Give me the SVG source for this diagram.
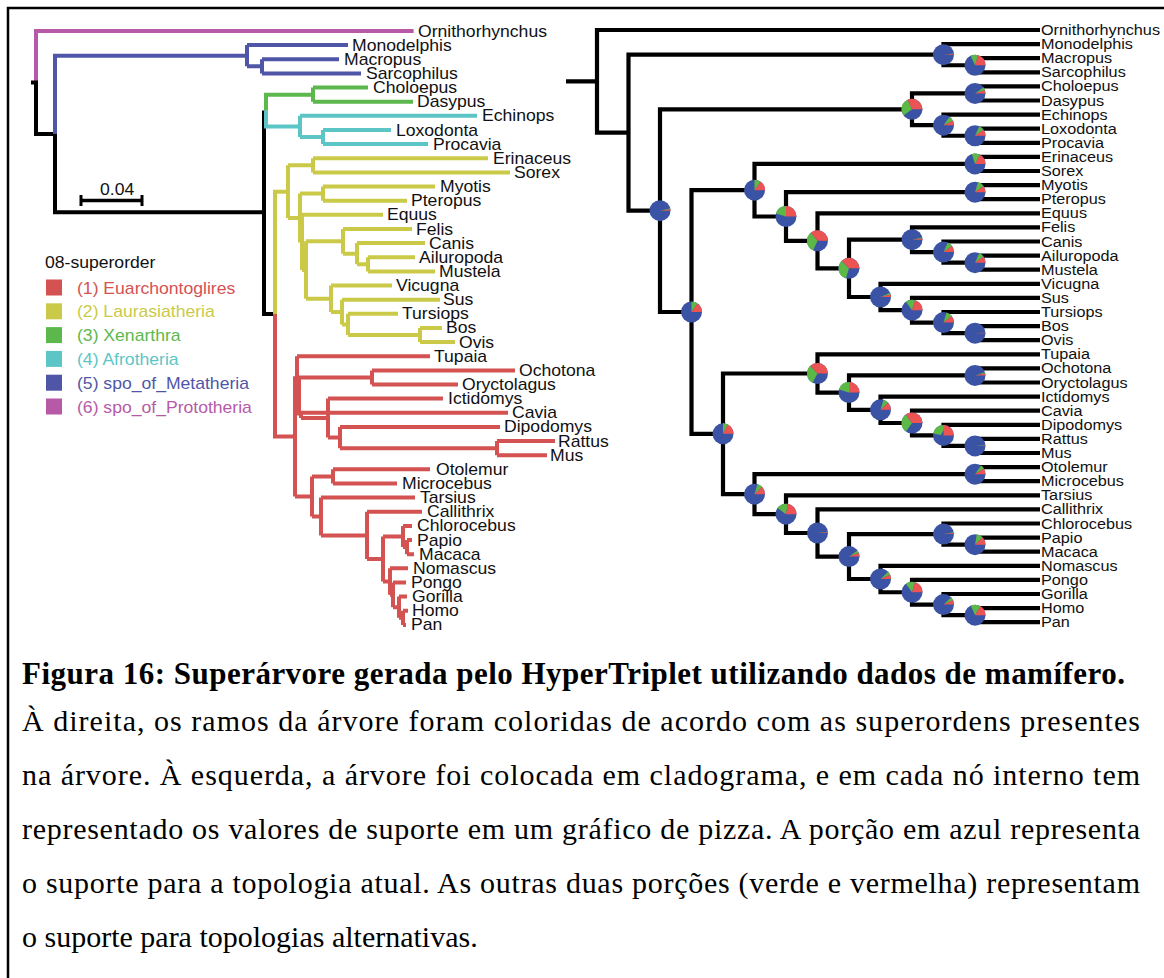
<svg xmlns="http://www.w3.org/2000/svg" width="1164" height="978" viewBox="0 0 1164 978">
<style>
.bg{fill:#fff}
.frame{fill:none;stroke:#000;stroke-width:2.5}
.e{fill:none;stroke-width:4;stroke-linecap:butt;stroke-linejoin:miter}
.k{stroke:#000}
.pk{stroke:#b65aa8}
.bl{stroke:#4f56a8}
.gr{stroke:#5cb84c}
.cy{stroke:#5cc6c6}
.ye{stroke:#caca48}
.rd{stroke:#d45252}
.rk{fill:none;stroke:#000;stroke-width:4.2;stroke-linejoin:miter}
.lt{font-family:"Liberation Sans",Arial,Helvetica,sans-serif;font-size:16px;fill:#111}
.rt{font-family:"Liberation Sans",Arial,Helvetica,sans-serif;font-size:14.5px;fill:#111}
.pb{fill:#3a53a4}
.pg{fill:none;stroke:#5cb947;stroke-width:10.5}
.pr{fill:none;stroke:#ec5353;stroke-width:10.5}
.cap{font-family:"Liberation Serif","Times New Roman",serif;font-size:30px;fill:#000}
.capb{font-family:"Liberation Serif","Times New Roman",serif;font-size:31px;font-weight:bold;fill:#000}
</style>
<rect class="bg" x="0" y="0" width="1164" height="978"/>
<path class="frame" d="M8 978 V8 H1164"/>

<g id="connectors">
<g id="left-edges">
<path class="e pk" d="M36 82.5 V31 H413.6"/>
<path class="e k" d="M31 82.5 H36 V134 H55 M55 134 V212.3 H264 M264 110.5 V314 H275"/>
<path class="e bl" d="M55 134 V55.7 H247 M247 45.1 V66.35 M247 45.1 H348 M247 66.35 H262 M262 59.3 V73.4 M262 59.3 H339 M262 73.4 H361"/>
<path class="e gr" d="M266 110.5 V94.65 H313 M313 87.6 V101.7 M313 87.6 H368 M313 101.7 H413"/>
<path class="e cy" d="M266 110.5 V126.4 H300 M300 115.8 V137.05 M300 115.8 H477 M300 137.05 H323 M323 130 V144.1 M323 130 H391 M323 144.1 H428"/>
<path class="e ye" d="M275 314 V191.7 H288 M288 165.35 V218 M288 165.35 H313 M313 158.3 V172.4 M313 158.3 H488 M313 172.4 H510 M288 218 H300 M300 193.6 V242.4 M300 193.6 H323 M323 186.5 V200.7 M323 186.5 H435 M323 200.7 H407 M300 242.4 H302 M302 214.8 V270.1 M302 214.8 H383 M302 270.1 H306 M306 241.35 V298.8 M306 241.35 H343 M343 229 V253.7 M343 229 H412 M343 253.7 H357 M357 243.1 V264.3 M357 243.1 H425 M357 264.3 H368 M368 257.2 V271.4 M368 257.2 H415 M368 271.4 H435 M306 298.8 H331 M331 285.5 V312.05 M331 285.5 H392 M331 312.05 H342 M342 299.7 V324.4 M342 299.7 H440 M342 324.4 H348 M348 313.8 V335 M348 313.8 H398 M348 335 H420 M420 327.9 V342.1 M420 327.9 H442 M420 342.1 H455"/>
<path class="e rd" d="M275 314 V436.4 H295 M295 376.3 V496.4 M295 376.3 H297 M297 356.2 V396.4 M297 356.2 H430 M297 396.4 H299 M299 377.45 V415.4 M299 377.45 H372 M372 370.4 V384.5 M372 370.4 H515 M372 384.5 H458 M299 415.4 H301 M301 412.8 V418.05 M301 412.8 H508 M301 418.05 H328 M328 398.6 V437.5 M328 398.6 H443 M328 437.5 H340 M340 426.9 V448.15 M340 426.9 H500 M340 448.15 H497 M497 441.1 V455.2 M497 441.1 H555 M497 455.2 H547 M295 496.4 H312 M312 476.4 V516.5 M312 476.4 H333 M333 469.3 V483.5 M333 469.3 H430 M333 483.5 H397 M312 516.5 H321 M321 497.6 V535.4 M321 497.6 H415 M321 535.4 H367 M367 511.8 V559 M367 511.8 H422 M367 559 H383 M383 536.5 V581.6 M383 536.5 H403 M403 525.9 V547.1 M403 525.9 H412 M403 547.1 H407 M407 540 V554.2 M407 540 H412 M407 554.2 H414 M383 581.6 H390 M390 568.3 V594.85 M390 568.3 H408 M390 594.85 H393 M393 582.5 V607.2 M393 582.5 H406 M393 607.2 H399 M399 596.6 V617.8 M399 596.6 H407 M399 617.8 H403 M403 610.7 V624.9 M403 610.7 H408 M403 624.9 H406"/>
</g>
<g id="scale-bar">
<path d="M81 200.5 H142" stroke="#000" stroke-width="3.5"/>
<path d="M81 195 V206 M142 195 V206" stroke="#000" stroke-width="3"/>
</g>
<g id="right-edges">
<path class="rk" d="M566 81.35 H597 M1040 30 H597 V132.7 H628.5"/>
<path class="rk" d="M943.5 54.7 H628.5 V210.65 H660"/>
<path class="rk" d="M1040 44.1 H943.5 V65.25 H975"/>
<path class="rk" d="M1040 58.2 H975 V72.3 H1040"/>
<path class="rk" d="M912 109.3 H660 V312 H691.5"/>
<path class="rk" d="M975 93.45 H912 V125.2 H943.5"/>
<path class="rk" d="M1040 86.4 H975 V100.5 H1040"/>
<path class="rk" d="M1040 114.6 H943.5 V135.75 H975"/>
<path class="rk" d="M1040 128.7 H975 V142.8 H1040"/>
<path class="rk" d="M754.5 190.2 H691.5 V433.8 H723"/>
<path class="rk" d="M975 163.95 H754.5 V216.5 H786"/>
<path class="rk" d="M1040 156.9 H975 V171 H1040"/>
<path class="rk" d="M975 192.15 H786 V240.8 H817.5"/>
<path class="rk" d="M1040 185.1 H975 V199.2 H1040"/>
<path class="rk" d="M1040 213.3 H817.5 V268.35 H849"/>
<path class="rk" d="M912 239.7 H849 V297 H880.5"/>
<path class="rk" d="M1040 227.4 H912 V252.1 H943.5"/>
<path class="rk" d="M1040 241.5 H943.5 V262.65 H975"/>
<path class="rk" d="M1040 255.6 H975 V269.7 H1040"/>
<path class="rk" d="M1040 283.8 H880.5 V310.2 H912"/>
<path class="rk" d="M1040 297.9 H912 V322.6 H943.5"/>
<path class="rk" d="M1040 312 H943.5 V333.15 H975"/>
<path class="rk" d="M1040 326.1 H975 V340.2 H1040"/>
<path class="rk" d="M817.5 373.5 H723 V494.15 H754.5"/>
<path class="rk" d="M1040 354.3 H817.5 V392.6 H849"/>
<path class="rk" d="M975 375.45 H849 V409.8 H880.5"/>
<path class="rk" d="M1040 368.4 H975 V382.5 H1040"/>
<path class="rk" d="M1040 396.6 H880.5 V423 H912"/>
<path class="rk" d="M1040 410.7 H912 V435.4 H943.5"/>
<path class="rk" d="M1040 424.8 H943.5 V445.95 H975"/>
<path class="rk" d="M1040 438.9 H975 V453 H1040"/>
<path class="rk" d="M975 474.15 H754.5 V514.15 H786"/>
<path class="rk" d="M1040 467.1 H975 V481.2 H1040"/>
<path class="rk" d="M1040 495.3 H786 V533 H817.5"/>
<path class="rk" d="M1040 509.4 H817.5 V556.6 H849"/>
<path class="rk" d="M943.5 534.1 H849 V579 H880.5"/>
<path class="rk" d="M1040 523.5 H943.5 V544.65 H975"/>
<path class="rk" d="M1040 537.6 H975 V551.7 H1040"/>
<path class="rk" d="M1040 565.8 H880.5 V592.25 H912"/>
<path class="rk" d="M1040 579.9 H912 V604.6 H943.5"/>
<path class="rk" d="M1040 594 H943.5 V615.15 H975"/>
<path class="rk" d="M1040 608.1 H975 V622.2 H1040"/>
</g>
</g>

<g id="scale-label"><text class="lt" transform="matrix(1.1 0 0 1 100 195)">0.04</text></g>

<g id="legend">
<text class="lt" fill="#222" transform="matrix(1.1 0 0 1 45 268)">08-superorder</text>
<g id="leg-1"><rect x="46" y="279.5" width="16" height="16" fill="#d45252"/><text class="lt" style="fill:#d45252" transform="matrix(1.1 0 0 1 77 293.5)">(1) Euarchontoglires</text></g>
<g id="leg-2"><rect x="46" y="303.3" width="16" height="16" fill="#caca48"/><text class="lt" style="fill:#caca48" transform="matrix(1.1 0 0 1 77 317.3)">(2) Laurasiatheria</text></g>
<g id="leg-3"><rect x="46" y="327.1" width="16" height="16" fill="#5cb84c"/><text class="lt" style="fill:#5cb84c" transform="matrix(1.1 0 0 1 77 341.1)">(3) Xenarthra</text></g>
<g id="leg-4"><rect x="46" y="350.9" width="16" height="16" fill="#5cc6c6"/><text class="lt" style="fill:#5cc6c6" transform="matrix(1.1 0 0 1 77 364.9)">(4) Afrotheria</text></g>
<g id="leg-5"><rect x="46" y="374.7" width="16" height="16" fill="#4f56a8"/><text class="lt" style="fill:#4f56a8" transform="matrix(1.1 0 0 1 77 388.7)">(5) spo_of_Metatheria</text></g>
<g id="leg-6"><rect x="46" y="398.5" width="16" height="16" fill="#b65aa8"/><text class="lt" style="fill:#b65aa8" transform="matrix(1.1 0 0 1 77 412.5)">(6) spo_of_Prototheria</text></g>
</g>

<g id="left-labels">
<g id="L-Ornithorhynchus"><text class="lt" transform="matrix(1.1 0 0 1 418 36.5)">Ornithorhynchus</text></g>
<g id="L-Monodelphis"><text class="lt" transform="matrix(1.1 0 0 1 352 50.6)">Monodelphis</text></g>
<g id="L-Macropus"><text class="lt" transform="matrix(1.1 0 0 1 344 64.8)">Macropus</text></g>
<g id="L-Sarcophilus"><text class="lt" transform="matrix(1.1 0 0 1 366 78.9)">Sarcophilus</text></g>
<g id="L-Choloepus"><text class="lt" transform="matrix(1.1 0 0 1 373 93.1)">Choloepus</text></g>
<g id="L-Dasypus"><text class="lt" transform="matrix(1.1 0 0 1 417 107.2)">Dasypus</text></g>
<g id="L-Echinops"><text class="lt" transform="matrix(1.1 0 0 1 482 121.3)">Echinops</text></g>
<g id="L-Loxodonta"><text class="lt" transform="matrix(1.1 0 0 1 396 135.5)">Loxodonta</text></g>
<g id="L-Procavia"><text class="lt" transform="matrix(1.1 0 0 1 433 149.6)">Procavia</text></g>
<g id="L-Erinaceus"><text class="lt" transform="matrix(1.1 0 0 1 493 163.8)">Erinaceus</text></g>
<g id="L-Sorex"><text class="lt" transform="matrix(1.1 0 0 1 514 177.9)">Sorex</text></g>
<g id="L-Myotis"><text class="lt" transform="matrix(1.1 0 0 1 440 192)">Myotis</text></g>
<g id="L-Pteropus"><text class="lt" transform="matrix(1.1 0 0 1 411 206.2)">Pteropus</text></g>
<g id="L-Equus"><text class="lt" transform="matrix(1.1 0 0 1 387 220.3)">Equus</text></g>
<g id="L-Felis"><text class="lt" transform="matrix(1.1 0 0 1 416 234.5)">Felis</text></g>
<g id="L-Canis"><text class="lt" transform="matrix(1.1 0 0 1 429 248.6)">Canis</text></g>
<g id="L-Ailuropoda"><text class="lt" transform="matrix(1.1 0 0 1 419 262.7)">Ailuropoda</text></g>
<g id="L-Mustela"><text class="lt" transform="matrix(1.1 0 0 1 439 276.9)">Mustela</text></g>
<g id="L-Vicugna"><text class="lt" transform="matrix(1.1 0 0 1 396 291)">Vicugna</text></g>
<g id="L-Sus"><text class="lt" transform="matrix(1.1 0 0 1 443 305.2)">Sus</text></g>
<g id="L-Tursiops"><text class="lt" transform="matrix(1.1 0 0 1 402 319.3)">Tursiops</text></g>
<g id="L-Bos"><text class="lt" transform="matrix(1.1 0 0 1 446 333.4)">Bos</text></g>
<g id="L-Ovis"><text class="lt" transform="matrix(1.1 0 0 1 459 347.6)">Ovis</text></g>
<g id="L-Tupaia"><text class="lt" transform="matrix(1.1 0 0 1 434 361.7)">Tupaia</text></g>
<g id="L-Ochotona"><text class="lt" transform="matrix(1.1 0 0 1 519 375.9)">Ochotona</text></g>
<g id="L-Oryctolagus"><text class="lt" transform="matrix(1.1 0 0 1 462 390)">Oryctolagus</text></g>
<g id="L-Ictidomys"><text class="lt" transform="matrix(1.1 0 0 1 448 404.1)">Ictidomys</text></g>
<g id="L-Cavia"><text class="lt" transform="matrix(1.1 0 0 1 512 418.3)">Cavia</text></g>
<g id="L-Dipodomys"><text class="lt" transform="matrix(1.1 0 0 1 504 432.4)">Dipodomys</text></g>
<g id="L-Rattus"><text class="lt" transform="matrix(1.1 0 0 1 558 446.6)">Rattus</text></g>
<g id="L-Mus"><text class="lt" transform="matrix(1.1 0 0 1 550 460.7)">Mus</text></g>
<g id="L-Otolemur"><text class="lt" transform="matrix(1.1 0 0 1 436 474.8)">Otolemur</text></g>
<g id="L-Microcebus"><text class="lt" transform="matrix(1.1 0 0 1 402 489)">Microcebus</text></g>
<g id="L-Tarsius"><text class="lt" transform="matrix(1.1 0 0 1 420 503.1)">Tarsius</text></g>
<g id="L-Callithrix"><text class="lt" transform="matrix(1.1 0 0 1 427 517.3)">Callithrix</text></g>
<g id="L-Chlorocebus"><text class="lt" transform="matrix(1.1 0 0 1 417 531.4)">Chlorocebus</text></g>
<g id="L-Papio"><text class="lt" transform="matrix(1.1 0 0 1 417 545.5)">Papio</text></g>
<g id="L-Macaca"><text class="lt" transform="matrix(1.1 0 0 1 419 559.7)">Macaca</text></g>
<g id="L-Nomascus"><text class="lt" transform="matrix(1.1 0 0 1 413 573.8)">Nomascus</text></g>
<g id="L-Pongo"><text class="lt" transform="matrix(1.1 0 0 1 411 588)">Pongo</text></g>
<g id="L-Gorilla"><text class="lt" transform="matrix(1.1 0 0 1 412 602.1)">Gorilla</text></g>
<g id="L-Homo"><text class="lt" transform="matrix(1.1 0 0 1 412 616.2)">Homo</text></g>
<g id="L-Pan"><text class="lt" transform="matrix(1.1 0 0 1 411 630.4)">Pan</text></g>
</g>

<g id="right-labels">
<g id="R-Ornithorhynchus"><text class="rt" transform="matrix(1.12 0 0 1 1041 35)">Ornithorhynchus</text></g>
<g id="R-Monodelphis"><text class="rt" transform="matrix(1.12 0 0 1 1041 49.1)">Monodelphis</text></g>
<g id="R-Macropus"><text class="rt" transform="matrix(1.12 0 0 1 1041 63.2)">Macropus</text></g>
<g id="R-Sarcophilus"><text class="rt" transform="matrix(1.12 0 0 1 1041 77.3)">Sarcophilus</text></g>
<g id="R-Choloepus"><text class="rt" transform="matrix(1.12 0 0 1 1041 91.4)">Choloepus</text></g>
<g id="R-Dasypus"><text class="rt" transform="matrix(1.12 0 0 1 1041 105.5)">Dasypus</text></g>
<g id="R-Echinops"><text class="rt" transform="matrix(1.12 0 0 1 1041 119.6)">Echinops</text></g>
<g id="R-Loxodonta"><text class="rt" transform="matrix(1.12 0 0 1 1041 133.7)">Loxodonta</text></g>
<g id="R-Procavia"><text class="rt" transform="matrix(1.12 0 0 1 1041 147.8)">Procavia</text></g>
<g id="R-Erinaceus"><text class="rt" transform="matrix(1.12 0 0 1 1041 161.9)">Erinaceus</text></g>
<g id="R-Sorex"><text class="rt" transform="matrix(1.12 0 0 1 1041 176)">Sorex</text></g>
<g id="R-Myotis"><text class="rt" transform="matrix(1.12 0 0 1 1041 190.1)">Myotis</text></g>
<g id="R-Pteropus"><text class="rt" transform="matrix(1.12 0 0 1 1041 204.2)">Pteropus</text></g>
<g id="R-Equus"><text class="rt" transform="matrix(1.12 0 0 1 1041 218.3)">Equus</text></g>
<g id="R-Felis"><text class="rt" transform="matrix(1.12 0 0 1 1041 232.4)">Felis</text></g>
<g id="R-Canis"><text class="rt" transform="matrix(1.12 0 0 1 1041 246.5)">Canis</text></g>
<g id="R-Ailuropoda"><text class="rt" transform="matrix(1.12 0 0 1 1041 260.6)">Ailuropoda</text></g>
<g id="R-Mustela"><text class="rt" transform="matrix(1.12 0 0 1 1041 274.7)">Mustela</text></g>
<g id="R-Vicugna"><text class="rt" transform="matrix(1.12 0 0 1 1041 288.8)">Vicugna</text></g>
<g id="R-Sus"><text class="rt" transform="matrix(1.12 0 0 1 1041 302.9)">Sus</text></g>
<g id="R-Tursiops"><text class="rt" transform="matrix(1.12 0 0 1 1041 317)">Tursiops</text></g>
<g id="R-Bos"><text class="rt" transform="matrix(1.12 0 0 1 1041 331.1)">Bos</text></g>
<g id="R-Ovis"><text class="rt" transform="matrix(1.12 0 0 1 1041 345.2)">Ovis</text></g>
<g id="R-Tupaia"><text class="rt" transform="matrix(1.12 0 0 1 1041 359.3)">Tupaia</text></g>
<g id="R-Ochotona"><text class="rt" transform="matrix(1.12 0 0 1 1041 373.4)">Ochotona</text></g>
<g id="R-Oryctolagus"><text class="rt" transform="matrix(1.12 0 0 1 1041 387.5)">Oryctolagus</text></g>
<g id="R-Ictidomys"><text class="rt" transform="matrix(1.12 0 0 1 1041 401.6)">Ictidomys</text></g>
<g id="R-Cavia"><text class="rt" transform="matrix(1.12 0 0 1 1041 415.7)">Cavia</text></g>
<g id="R-Dipodomys"><text class="rt" transform="matrix(1.12 0 0 1 1041 429.8)">Dipodomys</text></g>
<g id="R-Rattus"><text class="rt" transform="matrix(1.12 0 0 1 1041 443.9)">Rattus</text></g>
<g id="R-Mus"><text class="rt" transform="matrix(1.12 0 0 1 1041 458)">Mus</text></g>
<g id="R-Otolemur"><text class="rt" transform="matrix(1.12 0 0 1 1041 472.1)">Otolemur</text></g>
<g id="R-Microcebus"><text class="rt" transform="matrix(1.12 0 0 1 1041 486.2)">Microcebus</text></g>
<g id="R-Tarsius"><text class="rt" transform="matrix(1.12 0 0 1 1041 500.3)">Tarsius</text></g>
<g id="R-Callithrix"><text class="rt" transform="matrix(1.12 0 0 1 1041 514.4)">Callithrix</text></g>
<g id="R-Chlorocebus"><text class="rt" transform="matrix(1.12 0 0 1 1041 528.5)">Chlorocebus</text></g>
<g id="R-Papio"><text class="rt" transform="matrix(1.12 0 0 1 1041 542.6)">Papio</text></g>
<g id="R-Macaca"><text class="rt" transform="matrix(1.12 0 0 1 1041 556.7)">Macaca</text></g>
<g id="R-Nomascus"><text class="rt" transform="matrix(1.12 0 0 1 1041 570.8)">Nomascus</text></g>
<g id="R-Pongo"><text class="rt" transform="matrix(1.12 0 0 1 1041 584.9)">Pongo</text></g>
<g id="R-Gorilla"><text class="rt" transform="matrix(1.12 0 0 1 1041 599)">Gorilla</text></g>
<g id="R-Homo"><text class="rt" transform="matrix(1.12 0 0 1 1041 613.1)">Homo</text></g>
<g id="R-Pan"><text class="rt" transform="matrix(1.12 0 0 1 1041 627.2)">Pan</text></g>
</g>

<g id="pies">
<g id="pie-Meta" transform="translate(943.5 54.7)"><circle class="pb" r="10.5"/><circle class="pg" r="5.25" pathLength="100" stroke-dasharray="0.6 100" stroke-dashoffset="-98"/><circle class="pr" r="5.25" pathLength="100" stroke-dasharray="1.4 100" stroke-dashoffset="-98.6"/></g>
<g id="pie-MS" transform="translate(975 65.25)"><circle class="pb" r="10.5"/><circle class="pg" r="5.25" pathLength="100" stroke-dasharray="12 100" stroke-dashoffset="-68"/><circle class="pr" r="5.25" pathLength="100" stroke-dasharray="20 100" stroke-dashoffset="-80"/></g>
<g id="pie-Xen" transform="translate(975 93.45)"><circle class="pb" r="10.5"/><circle class="pg" r="5.25" pathLength="100" stroke-dasharray="5 100" stroke-dashoffset="-90"/><circle class="pr" r="5.25" pathLength="100" stroke-dasharray="5 100" stroke-dashoffset="-95"/></g>
<g id="pie-Atlanto" transform="translate(912 109.3)"><circle class="pb" r="10.5"/><circle class="pg" r="5.25" pathLength="100" stroke-dasharray="28 100" stroke-dashoffset="-40"/><circle class="pr" r="5.25" pathLength="100" stroke-dasharray="32 100" stroke-dashoffset="-68"/></g>
<g id="pie-Afro" transform="translate(943.5 125.2)"><circle class="pb" r="10.5"/><circle class="pg" r="5.25" pathLength="100" stroke-dasharray="8 100" stroke-dashoffset="-85"/><circle class="pr" r="5.25" pathLength="100" stroke-dasharray="7 100" stroke-dashoffset="-93"/></g>
<g id="pie-LP" transform="translate(975 135.75)"><circle class="pb" r="10.5"/><circle class="pg" r="5.25" pathLength="100" stroke-dasharray="8 100" stroke-dashoffset="-82"/><circle class="pr" r="5.25" pathLength="100" stroke-dasharray="10 100" stroke-dashoffset="-90"/></g>
<g id="pie-Eulipo" transform="translate(975 163.95)"><circle class="pb" r="10.5"/><circle class="pg" r="5.25" pathLength="100" stroke-dasharray="13 100" stroke-dashoffset="-70"/><circle class="pr" r="5.25" pathLength="100" stroke-dasharray="17 100" stroke-dashoffset="-83"/></g>
<g id="pie-Chiro" transform="translate(975 192.15)"><circle class="pb" r="10.5"/><circle class="pg" r="5.25" pathLength="100" stroke-dasharray="10 100" stroke-dashoffset="-80"/><circle class="pr" r="5.25" pathLength="100" stroke-dasharray="10 100" stroke-dashoffset="-90"/></g>
<g id="pie-Laur" transform="translate(754.5 190.2)"><circle class="pb" r="10.5"/><circle class="pg" r="5.25" pathLength="100" stroke-dasharray="10 100" stroke-dashoffset="-75"/><circle class="pr" r="5.25" pathLength="100" stroke-dasharray="15 100" stroke-dashoffset="-85"/></g>
<g id="pie-Scro" transform="translate(786 216.5)"><circle class="pb" r="10.5"/><circle class="pg" r="5.25" pathLength="100" stroke-dasharray="20 100" stroke-dashoffset="-55"/><circle class="pr" r="5.25" pathLength="100" stroke-dasharray="25 100" stroke-dashoffset="-75"/></g>
<g id="pie-Fer" transform="translate(817.5 240.8)"><circle class="pb" r="10.5"/><circle class="pg" r="5.25" pathLength="100" stroke-dasharray="32 100" stroke-dashoffset="-32"/><circle class="pr" r="5.25" pathLength="100" stroke-dasharray="36 100" stroke-dashoffset="-64"/></g>
<g id="pie-CC" transform="translate(849 268.35)"><circle class="pb" r="10.5"/><circle class="pg" r="5.25" pathLength="100" stroke-dasharray="33 100" stroke-dashoffset="-30"/><circle class="pr" r="5.25" pathLength="100" stroke-dasharray="37 100" stroke-dashoffset="-63"/></g>
<g id="pie-Carn" transform="translate(912 239.7)"><circle class="pb" r="10.5"/><circle class="pg" r="5.25" pathLength="100" stroke-dasharray="1.5 100" stroke-dashoffset="-96"/><circle class="pr" r="5.25" pathLength="100" stroke-dasharray="2.5 100" stroke-dashoffset="-97.5"/></g>
<g id="pie-CAM" transform="translate(943.5 252.1)"><circle class="pb" r="10.5"/><circle class="pg" r="5.25" pathLength="100" stroke-dasharray="8 100" stroke-dashoffset="-82"/><circle class="pr" r="5.25" pathLength="100" stroke-dasharray="10 100" stroke-dashoffset="-90"/></g>
<g id="pie-AM" transform="translate(975 262.65)"><circle class="pb" r="10.5"/><circle class="pg" r="5.25" pathLength="100" stroke-dasharray="8 100" stroke-dashoffset="-82"/><circle class="pr" r="5.25" pathLength="100" stroke-dasharray="10 100" stroke-dashoffset="-90"/></g>
<g id="pie-Cet" transform="translate(880.5 297)"><circle class="pb" r="10.5"/><circle class="pg" r="5.25" pathLength="100" stroke-dasharray="3 100" stroke-dashoffset="-93"/><circle class="pr" r="5.25" pathLength="100" stroke-dasharray="4 100" stroke-dashoffset="-96"/></g>
<g id="pie-STBO" transform="translate(912 310.2)"><circle class="pb" r="10.5"/><circle class="pg" r="5.25" pathLength="100" stroke-dasharray="15 100" stroke-dashoffset="-65"/><circle class="pr" r="5.25" pathLength="100" stroke-dasharray="20 100" stroke-dashoffset="-80"/></g>
<g id="pie-TBO" transform="translate(943.5 322.6)"><circle class="pb" r="10.5"/><circle class="pg" r="5.25" pathLength="100" stroke-dasharray="9 100" stroke-dashoffset="-80"/><circle class="pr" r="5.25" pathLength="100" stroke-dasharray="11 100" stroke-dashoffset="-89"/></g>
<g id="pie-BO" transform="translate(975 333.15)"><circle class="pb" r="10.5"/><circle class="pg" r="5.25" pathLength="100" stroke-dasharray="0.5 100" stroke-dashoffset="-99"/><circle class="pr" r="5.25" pathLength="100" stroke-dasharray="0.5 100" stroke-dashoffset="-99.5"/></g>
<g id="pie-Boreo" transform="translate(691.5 312)"><circle class="pb" r="10.5"/><circle class="pg" r="5.25" pathLength="100" stroke-dasharray="10 100" stroke-dashoffset="-75"/><circle class="pr" r="5.25" pathLength="100" stroke-dasharray="15 100" stroke-dashoffset="-85"/></g>
<g id="pie-Eutheria" transform="translate(660 210.65)"><circle class="pb" r="10.5"/><circle class="pg" r="5.25" pathLength="100" stroke-dasharray="1.5 100" stroke-dashoffset="-96"/><circle class="pr" r="5.25" pathLength="100" stroke-dasharray="2.5 100" stroke-dashoffset="-97.5"/></g>
<g id="pie-Euarch" transform="translate(723 433.8)"><circle class="pb" r="10.5"/><circle class="pg" r="5.25" pathLength="100" stroke-dasharray="8 100" stroke-dashoffset="-75"/><circle class="pr" r="5.25" pathLength="100" stroke-dasharray="17 100" stroke-dashoffset="-83"/></g>
<g id="pie-TG" transform="translate(817.5 373.5)"><circle class="pb" r="10.5"/><circle class="pg" r="5.25" pathLength="100" stroke-dasharray="30 100" stroke-dashoffset="-33"/><circle class="pr" r="5.25" pathLength="100" stroke-dasharray="37 100" stroke-dashoffset="-63"/></g>
<g id="pie-Lago" transform="translate(975 375.45)"><circle class="pb" r="10.5"/><circle class="pg" r="5.25" pathLength="100" stroke-dasharray="2 100" stroke-dashoffset="-95"/><circle class="pr" r="5.25" pathLength="100" stroke-dasharray="3 100" stroke-dashoffset="-97"/></g>
<g id="pie-Glires" transform="translate(849 392.6)"><circle class="pb" r="10.5"/><circle class="pg" r="5.25" pathLength="100" stroke-dasharray="20 100" stroke-dashoffset="-55"/><circle class="pr" r="5.25" pathLength="100" stroke-dasharray="25 100" stroke-dashoffset="-75"/></g>
<g id="pie-Rod" transform="translate(880.5 409.8)"><circle class="pb" r="10.5"/><circle class="pg" r="5.25" pathLength="100" stroke-dasharray="8 100" stroke-dashoffset="-80"/><circle class="pr" r="5.25" pathLength="100" stroke-dasharray="12 100" stroke-dashoffset="-88"/></g>
<g id="pie-CDRM" transform="translate(912 423)"><circle class="pb" r="10.5"/><circle class="pg" r="5.25" pathLength="100" stroke-dasharray="30 100" stroke-dashoffset="-35"/><circle class="pr" r="5.25" pathLength="100" stroke-dasharray="35 100" stroke-dashoffset="-65"/></g>
<g id="pie-DRM" transform="translate(943.5 435.4)"><circle class="pb" r="10.5"/><circle class="pg" r="5.25" pathLength="100" stroke-dasharray="22 100" stroke-dashoffset="-53"/><circle class="pr" r="5.25" pathLength="100" stroke-dasharray="25 100" stroke-dashoffset="-75"/></g>
<g id="pie-RM" transform="translate(975 445.95)"><circle class="pb" r="10.5"/><circle class="pg" r="5.25" pathLength="100" stroke-dasharray="0.5 100" stroke-dashoffset="-99"/><circle class="pr" r="5.25" pathLength="100" stroke-dasharray="0.5 100" stroke-dashoffset="-99.5"/></g>
<g id="pie-Primates" transform="translate(754.5 494.15)"><circle class="pb" r="10.5"/><circle class="pg" r="5.25" pathLength="100" stroke-dasharray="8 100" stroke-dashoffset="-80"/><circle class="pr" r="5.25" pathLength="100" stroke-dasharray="12 100" stroke-dashoffset="-88"/></g>
<g id="pie-OM" transform="translate(975 474.15)"><circle class="pb" r="10.5"/><circle class="pg" r="5.25" pathLength="100" stroke-dasharray="6 100" stroke-dashoffset="-85"/><circle class="pr" r="5.25" pathLength="100" stroke-dasharray="9 100" stroke-dashoffset="-91"/></g>
<g id="pie-Haplo" transform="translate(786 514.15)"><circle class="pb" r="10.5"/><circle class="pg" r="5.25" pathLength="100" stroke-dasharray="18 100" stroke-dashoffset="-60"/><circle class="pr" r="5.25" pathLength="100" stroke-dasharray="22 100" stroke-dashoffset="-78"/></g>
<g id="pie-Simi" transform="translate(817.5 533)"><circle class="pb" r="10.5"/><circle class="pg" r="5.25" pathLength="100" stroke-dasharray="0.6 100" stroke-dashoffset="-98"/><circle class="pr" r="5.25" pathLength="100" stroke-dasharray="1.4 100" stroke-dashoffset="-98.6"/></g>
<g id="pie-Cat" transform="translate(849 556.6)"><circle class="pb" r="10.5"/><circle class="pg" r="5.25" pathLength="100" stroke-dasharray="4 100" stroke-dashoffset="-90"/><circle class="pr" r="5.25" pathLength="100" stroke-dasharray="6 100" stroke-dashoffset="-94"/></g>
<g id="pie-Cerc" transform="translate(943.5 534.1)"><circle class="pb" r="10.5"/><circle class="pg" r="5.25" pathLength="100" stroke-dasharray="1 100" stroke-dashoffset="-97"/><circle class="pr" r="5.25" pathLength="100" stroke-dasharray="2 100" stroke-dashoffset="-98"/></g>
<g id="pie-PM" transform="translate(975 544.65)"><circle class="pb" r="10.5"/><circle class="pg" r="5.25" pathLength="100" stroke-dasharray="10 100" stroke-dashoffset="-78"/><circle class="pr" r="5.25" pathLength="100" stroke-dasharray="12 100" stroke-dashoffset="-88"/></g>
<g id="pie-Hom" transform="translate(880.5 579)"><circle class="pb" r="10.5"/><circle class="pg" r="5.25" pathLength="100" stroke-dasharray="5 100" stroke-dashoffset="-88"/><circle class="pr" r="5.25" pathLength="100" stroke-dasharray="7 100" stroke-dashoffset="-93"/></g>
<g id="pie-PGHP" transform="translate(912 592.25)"><circle class="pb" r="10.5"/><circle class="pg" r="5.25" pathLength="100" stroke-dasharray="15 100" stroke-dashoffset="-65"/><circle class="pr" r="5.25" pathLength="100" stroke-dasharray="20 100" stroke-dashoffset="-80"/></g>
<g id="pie-GHP" transform="translate(943.5 604.6)"><circle class="pb" r="10.5"/><circle class="pg" r="5.25" pathLength="100" stroke-dasharray="5 100" stroke-dashoffset="-88"/><circle class="pr" r="5.25" pathLength="100" stroke-dasharray="7 100" stroke-dashoffset="-93"/></g>
<g id="pie-HP" transform="translate(975 615.15)"><circle class="pb" r="10.5"/><circle class="pg" r="5.25" pathLength="100" stroke-dasharray="16 100" stroke-dashoffset="-68"/><circle class="pr" r="5.25" pathLength="100" stroke-dasharray="16 100" stroke-dashoffset="-84"/></g>
</g>

<g id="caption">
<text class="capb" x="22" y="684" textLength="1103" lengthAdjust="spacing">Figura 16: Superárvore gerada pelo HyperTriplet utilizando dados de mamífero.</text>
<text class="cap" x="22" y="731" textLength="1118" lengthAdjust="spacing">À direita, os ramos da árvore foram coloridas de acordo com as superordens presentes</text>
<text class="cap" x="22" y="785" textLength="1118" lengthAdjust="spacing">na árvore. À esquerda, a árvore foi colocada em cladograma, e em cada nó interno tem</text>
<text class="cap" x="22" y="839" textLength="1118" lengthAdjust="spacing">representado os valores de suporte em um gráfico de pizza. A porção em azul representa</text>
<text class="cap" x="22" y="893" textLength="1118" lengthAdjust="spacing">o suporte para a topologia atual. As outras duas porções (verde e vermelha) representam</text>
<text class="cap" x="22" y="947">o suporte para topologias alternativas.</text>
</g>
</svg>
